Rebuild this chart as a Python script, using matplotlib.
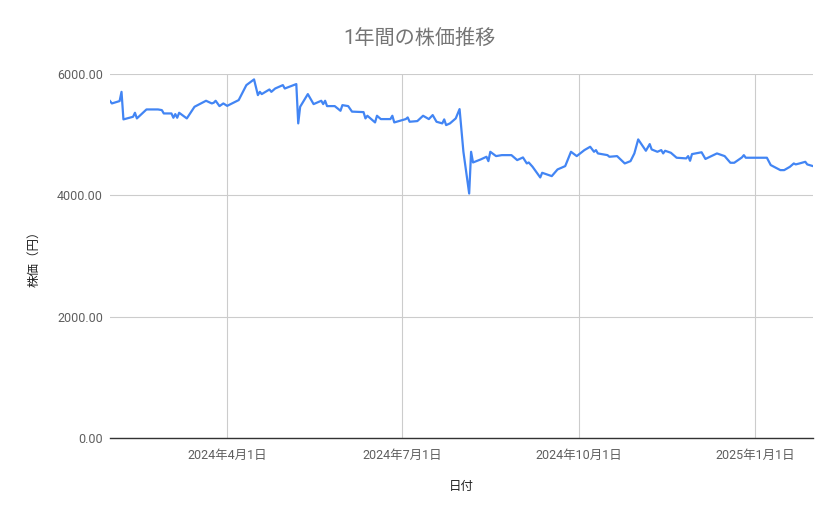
import matplotlib

matplotlib.use("Agg")
import matplotlib.dates as mdates
import matplotlib.pyplot as plt
import pandas as pd
from matplotlib.ticker import FuncFormatter

plt.rcParams["font.family"] = ["Roboto", "Noto Sans CJK JP", "DejaVu Sans"]

TITLE = "1年間の株価推移"
X_LABEL = "日付"
Y_LABEL = "株価（円）"

DATES = [
    "2024-01-31", "2024-02-01", "2024-02-05", "2024-02-06", "2024-02-07", "2024-02-12",
    "2024-02-13", "2024-02-14", "2024-02-19", "2024-02-25", "2024-02-27", "2024-02-28",
    "2024-03-03", "2024-03-04", "2024-03-05", "2024-03-06", "2024-03-07", "2024-03-11",
    "2024-03-15", "2024-03-21", "2024-03-24", "2024-03-25", "2024-03-26", "2024-03-28",
    "2024-03-30", "2024-04-01", "2024-04-07", "2024-04-11", "2024-04-15", "2024-04-17",
    "2024-04-18", "2024-04-19", "2024-04-21", "2024-04-23", "2024-04-24", "2024-04-26",
    "2024-04-30", "2024-05-01", "2024-05-07", "2024-05-08", "2024-05-09", "2024-05-13",
    "2024-05-16", "2024-05-20", "2024-05-21", "2024-05-22", "2024-05-23", "2024-05-27",
    "2024-05-30", "2024-05-31", "2024-06-03", "2024-06-05", "2024-06-11", "2024-06-12",
    "2024-06-13", "2024-06-17", "2024-06-18", "2024-06-20", "2024-06-25", "2024-06-26",
    "2024-06-27", "2024-07-03", "2024-07-04", "2024-07-05", "2024-07-09", "2024-07-12",
    "2024-07-15", "2024-07-17", "2024-07-19", "2024-07-22", "2024-07-23", "2024-07-24",
    "2024-07-26", "2024-07-29", "2024-07-31", "2024-08-02", "2024-08-05", "2024-08-06",
    "2024-08-07", "2024-08-11", "2024-08-14", "2024-08-15", "2024-08-16", "2024-08-19",
    "2024-08-22", "2024-08-27", "2024-08-30", "2024-09-02", "2024-09-04", "2024-09-05",
    "2024-09-07", "2024-09-11", "2024-09-12", "2024-09-17", "2024-09-20", "2024-09-24",
    "2024-09-27", "2024-09-30", "2024-10-04", "2024-10-07", "2024-10-09", "2024-10-10",
    "2024-10-11", "2024-10-16", "2024-10-17", "2024-10-21", "2024-10-25", "2024-10-28",
    "2024-10-30", "2024-11-01", "2024-11-05", "2024-11-07", "2024-11-08", "2024-11-11",
    "2024-11-13", "2024-11-14", "2024-11-15", "2024-11-18", "2024-11-21", "2024-11-26",
    "2024-11-27", "2024-11-28", "2024-11-29", "2024-12-04", "2024-12-06", "2024-12-12",
    "2024-12-16", "2024-12-19", "2024-12-21", "2024-12-25", "2024-12-26", "2024-12-27",
    "2025-01-07", "2025-01-09", "2025-01-14", "2025-01-16", "2025-01-19", "2025-01-21",
    "2025-01-22", "2025-01-24", "2025-01-27", "2025-01-28", "2025-01-31",
]

PRICES = [
    5554, 5515, 5554, 5706, 5252, 5295,
    5361, 5268, 5416, 5416, 5405, 5350,
    5350, 5279, 5339, 5279, 5361, 5268,
    5460, 5559, 5515, 5526, 5559, 5471,
    5515, 5475, 5570, 5817, 5911, 5652,
    5706, 5669, 5706, 5745, 5706, 5761,
    5817, 5761, 5834, 5186, 5460, 5669,
    5504, 5559, 5504, 5559, 5471, 5471,
    5394, 5487, 5471, 5380, 5372, 5268,
    5312, 5202, 5312, 5257, 5257, 5312,
    5202, 5257, 5284, 5213, 5224, 5312,
    5257, 5323, 5213, 5186, 5252, 5158,
    5186, 5268, 5422, 4718, 4030, 4718,
    4542, 4592, 4636, 4564, 4718, 4647,
    4663, 4663, 4581, 4625, 4526, 4542,
    4471, 4295, 4372, 4317, 4427, 4482,
    4718, 4647, 4746, 4801, 4718, 4746,
    4691, 4663, 4636, 4647, 4526, 4564,
    4691, 4922, 4735, 4845, 4757, 4718,
    4746, 4691, 4735, 4702, 4620, 4609,
    4647, 4570, 4680, 4710, 4600, 4691,
    4647, 4537, 4537, 4625, 4663, 4620,
    4620, 4499, 4416, 4416, 4471, 4526,
    4510, 4526, 4553, 4510, 4482,
]

X_TICK_DATES = ["2024-04-01", "2024-07-01", "2024-10-01", "2025-01-01"]
X_TICK_LABELS = ["2024年4月1日", "2024年7月1日", "2024年10月1日", "2025年1月1日"]
Y_TICKS = [0, 2000, 4000, 6000]

LINE_COLOR = "#4285f4"
GRID_COLOR = "#cccccc"
TEXT_COLOR = "#5f5f5f"


def main() -> None:
    dates = pd.to_datetime(DATES)

    fig = plt.figure(figsize=(8.39, 5.19), dpi=100)
    ax = fig.add_axes([0.1311, 0.156, 0.8379, 0.7014])

    ax.plot(dates, PRICES, color=LINE_COLOR, linewidth=1.6, solid_joinstyle="round")

    ax.set_xlim(dates.min(), dates.max())
    ax.set_ylim(0, 6000)

    ax.set_xticks(pd.to_datetime(X_TICK_DATES))
    ax.set_xticklabels(X_TICK_LABELS)
    ax.set_yticks(Y_TICKS)
    ax.yaxis.set_major_formatter(FuncFormatter(lambda v, _: f"{v:.2f}"))

    ax.grid(True, color=GRID_COLOR, linewidth=0.8)
    ax.set_axisbelow(True)
    for side in ("top", "right", "left"):
        ax.spines[side].set_visible(False)
    ax.spines["bottom"].set_color("#333333")
    ax.spines["bottom"].set_linewidth(1.0)
    ax.spines["bottom"].set_zorder(3)

    ax.tick_params(axis="both", length=0, labelsize=9, labelcolor=TEXT_COLOR)
    ax.tick_params(axis="x", pad=8)
    ax.tick_params(axis="y", pad=5)

    ax.set_xlabel(X_LABEL, fontsize=9, color="#222222", labelpad=13)
    ax.set_ylabel(Y_LABEL, fontsize=9, color="#222222", labelpad=12)

    fig.text(0.5, 1 - 38 / 519, TITLE, ha="center", va="center", fontsize=14.5, color="#757575")

    fig.savefig("out.png", dpi=100)
    plt.close(fig)


if __name__ == "__main__":
    main()
